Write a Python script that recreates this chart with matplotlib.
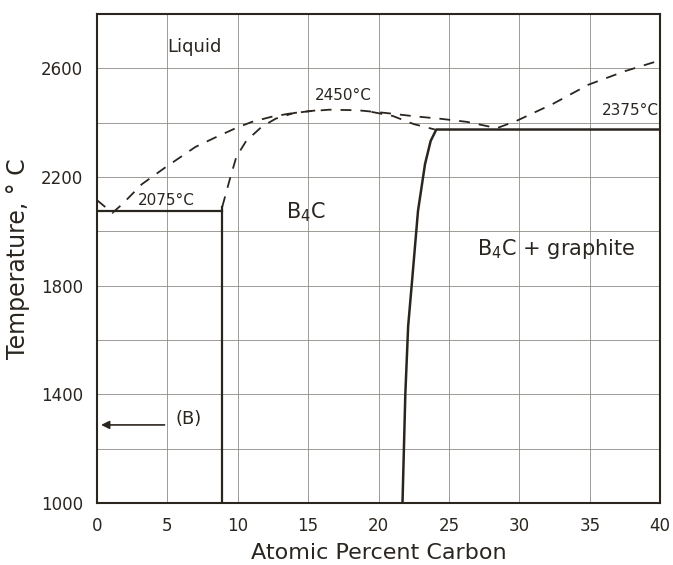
import matplotlib
matplotlib.use('Agg')
import matplotlib.pyplot as plt

# liquidus (dashed)
liq_x = [0, 1.1, 1.8, 3.2, 4.9, 7.0, 8.5, 9.9, 11.0, 12.4, 13.6, 15.0, 16.5, 18.5, 20.5, 22.5, 24.5, 26.3, 28.4, 29.8, 32.4, 34.9, 37.5, 40]
liq_t = [2115, 2068, 2100, 2174, 2237, 2311, 2348, 2381, 2403, 2422, 2433, 2442, 2448, 2446, 2436, 2424, 2414, 2403, 2380, 2407, 2470, 2540, 2590, 2630]

# B4C solidus (dashed)
sol_x = [8.9, 9.4, 9.9, 10.6, 11.7, 12.7, 14.0, 15.5]
sol_t = [2090, 2185, 2274, 2333, 2385, 2415, 2436, 2445]
sol2_x = [19.5, 21.0, 22.5, 24.0]
sol2_t = [2440, 2425, 2395, 2375]

# solid phase boundaries
eut_x = [0, 8.9]
eut_t = [2075, 2075]
left_x = [8.9, 8.9]
left_t = [1000, 2090]
right_x = [21.7, 21.9, 22.1, 22.4, 22.8, 23.3, 23.7, 24.1, 40]
right_t = [1000, 1400, 1650, 1830, 2075, 2248, 2333, 2375, 2375]

xticks = [0, 5, 10, 15, 20, 25, 30, 35, 40]
yticks = [1000, 1400, 1800, 2200, 2600]

ink = '#2b2520'
dash = (0, (6, 5))

fig = plt.figure(figsize=(6.73, 5.65), dpi=100)
ax = fig.add_axes([0.144, 0.110, 0.837, 0.865])

ax.plot(liq_x, liq_t, color=ink, lw=1.3, linestyle=dash)
ax.plot(sol_x, sol_t, color=ink, lw=1.3, linestyle=dash)
ax.plot(sol2_x, sol2_t, color=ink, lw=1.3, linestyle=dash)
ax.plot(eut_x, eut_t, color=ink, lw=1.6)
ax.plot(left_x, left_t, color=ink, lw=1.6)
ax.plot(right_x, right_t, color=ink, lw=1.8)

ax.annotate('', xy=(0.1, 1287), xytext=(5.0, 1287),
            arrowprops=dict(arrowstyle='-|>', color=ink, lw=1.2, mutation_scale=12))
ax.text(5.6, 1310, '(B)', fontsize=13, color=ink, va='center', ha='left')

ax.text(5.0, 2680, 'Liquid', fontsize=13, color=ink, va='center', ha='left')
ax.text(15.5, 2500, '2450°C', fontsize=11, color=ink, va='center', ha='left')
ax.text(2.9, 2115, '2075°C', fontsize=11, color=ink, va='center', ha='left')
ax.text(39.9, 2445, '2375°C', fontsize=11, color=ink, va='center', ha='right')
ax.text(13.4, 2070, 'B$_4$C', fontsize=15, color=ink, va='center', ha='left')
ax.text(27.0, 1935, 'B$_4$C + graphite', fontsize=15, color=ink, va='center', ha='left')

ax.set_xlim(0, 40)
ax.set_ylim(1000, 2800)
ax.set_xticks(xticks)
ax.set_yticks(yticks)
ax.set_yticks(range(1000, 2800, 200), minor=True)
ax.tick_params(length=0, labelsize=12, colors=ink, pad=10)
ax.tick_params(axis='y', which='minor', length=0)
ax.grid(True, which='both', color='#8f8a84', lw=0.6)
for s in ax.spines.values():
    s.set_color(ink)
    s.set_linewidth(1.5)

ax.set_xlabel('Atomic Percent Carbon', fontsize=16, color=ink, labelpad=6)
ax.set_ylabel('Temperature, ° C', fontsize=17, color=ink, labelpad=8)

fig.savefig('out.png', dpi=100)
